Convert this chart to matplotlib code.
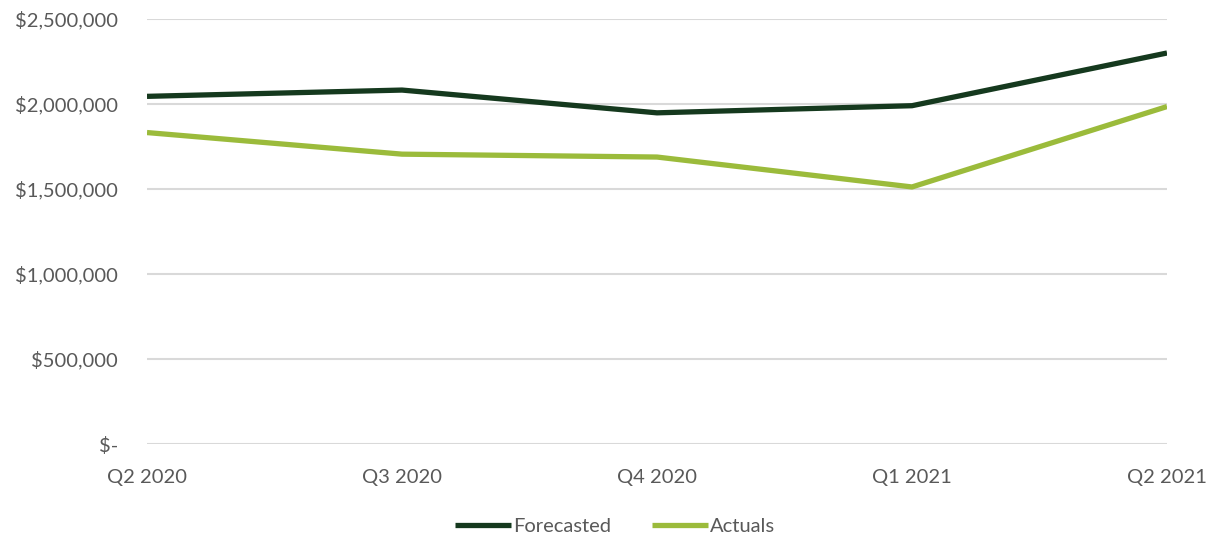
import matplotlib.pyplot as plt
from matplotlib.ticker import FuncFormatter

quarters = ['Q2 2020', 'Q3 2020', 'Q4 2020', 'Q1 2021', 'Q2 2021']
forecasted = [2045000, 2082000, 1948000, 1990000, 2300000]
actuals = [1832000, 1705000, 1688000, 1512000, 1985000]

plt.rcParams['font.family'] = ['Lato', 'DejaVu Sans']

fig = plt.figure(figsize=(12.14, 5.4), dpi=100)
ax = fig.add_axes([147 / 1214, 1 - 444 / 540, (1167 - 147) / 1214, (444 - 19) / 540])

x = range(len(quarters))
ax.plot(x, forecasted, color='#15391E', linewidth=3.8, label='Forecasted', solid_capstyle='butt')
ax.plot(x, actuals, color='#9BBB3B', linewidth=3.8, label='Actuals', solid_capstyle='butt')

ax.set_xlim(0, len(quarters) - 1)
ax.set_ylim(0, 2500000)
ax.set_yticks([0, 500000, 1000000, 1500000, 2000000, 2500000])
ax.yaxis.set_major_formatter(FuncFormatter(lambda v, p: '$-' if v == 0 else f'${v:,.0f}'))
ax.set_xticks(list(x))
ax.set_xticklabels(quarters)

ax.grid(axis='y', color='#D9D9D9', linewidth=1.5)
ax.set_axisbelow(True)
for s in ax.spines.values():
    s.set_visible(False)
ax.tick_params(axis='both', length=0, labelsize=14.5, labelcolor='#595959')
ax.tick_params(axis='y', pad=21)
ax.tick_params(axis='x', pad=18)

ax.legend(loc='center', bbox_to_anchor=(0.459, -0.195), ncol=2, frameon=False,
          fontsize=14.5, labelcolor='#595959', handlelength=2.8, handletextpad=0.1,
          columnspacing=2.0)

fig.savefig('out.png', dpi=100)
